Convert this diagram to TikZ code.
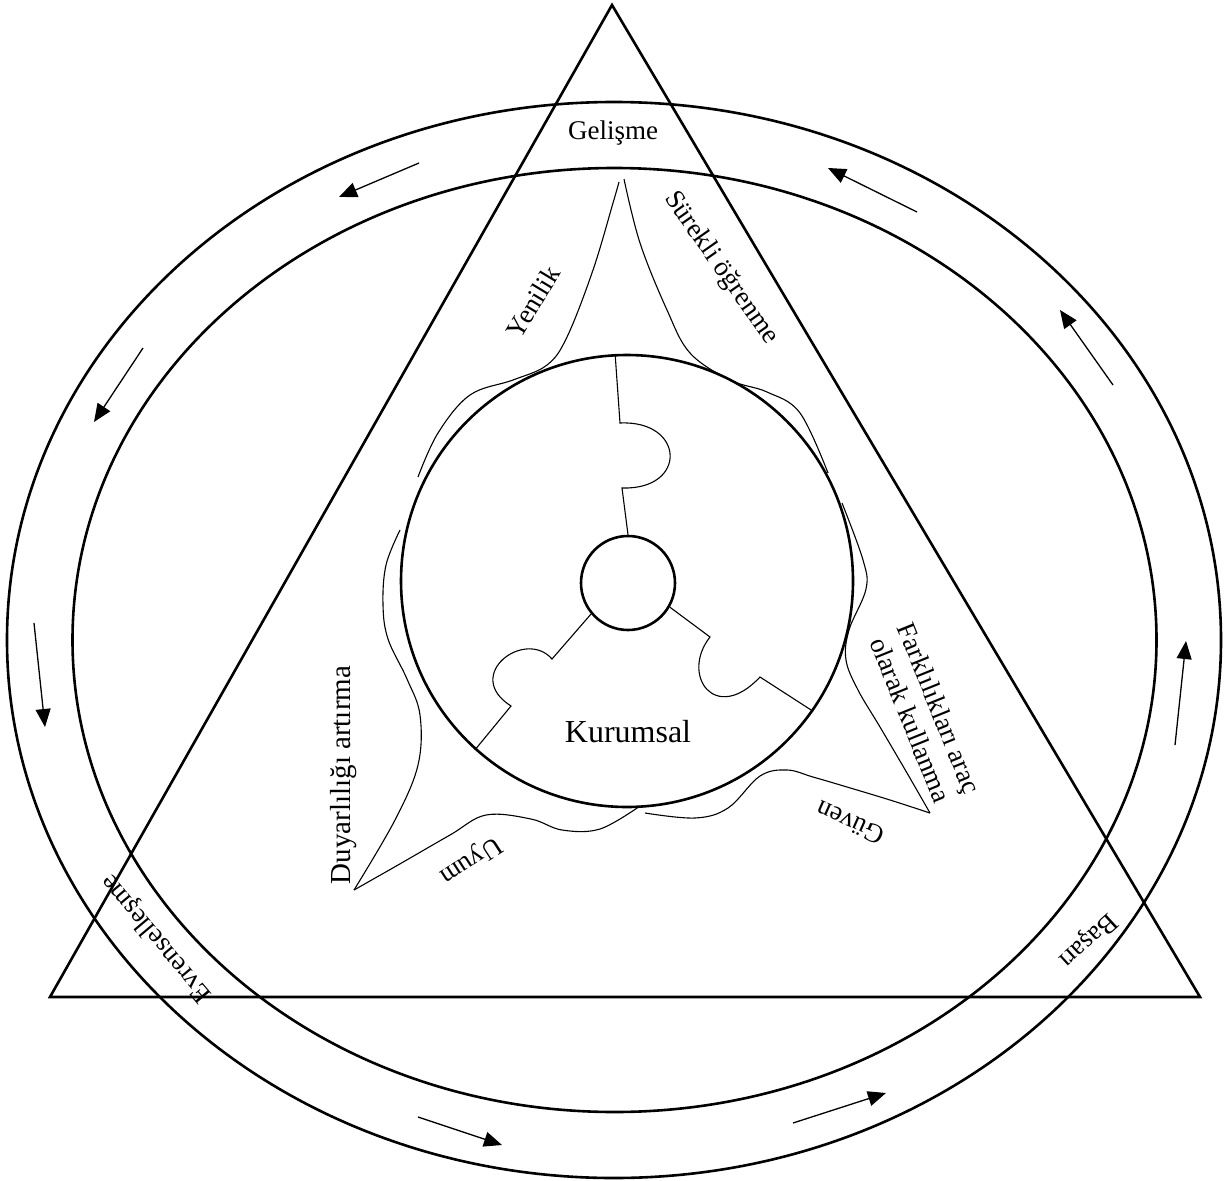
\documentclass[tikz,border=0pt]{standalone}
\usepackage{fontspec}
\setmainfont{Liberation Serif}
\usetikzlibrary{arrows.meta}

\begin{document}
\begin{tikzpicture}[
  x=1pt,y=-1pt,
  rim/.style={line width=2.6pt},
  wave/.style={line width=1.1pt},
  flow/.style={line width=1.3pt,-{Triangle[length=18pt,width=15pt]}},
  lbl/.style={font=\fontsize{27}{31}\selectfont,inner sep=0pt},
]
  \useasboundingbox (0,0) rectangle (1225,1180);
  % ---- outer ring and triangle ----
  \draw[rim] (614,640) ellipse [x radius=607, y radius=538];
  \draw[rim] (614.5,640) ellipse [x radius=542, y radius=472];
  \draw[rim,line join=miter] (612,5) -- (1200,997) -- (50,997) -- cycle;
  % ---- circulating arrows ----
  \foreach \ax/\ay/\bx/\by [count=\i] in {419/163/339/197, 917/212/828/168,
      143/348/94/422, 34/623/45/727, 418/1117/502/1145, 793/1123/886/1093,
      1175/745/1186/641, 1113/385/1060/310}{
    \coordinate (tail\i) at (\ax,\ay);
    \coordinate (head\i) at (\bx,\by);
    \draw[flow] (tail\i) -- (head\i);
  }
  % ---- core ----
  \node[rim,draw,circle,minimum size=452pt,inner sep=0pt] (core) at (627,581) {};
  \node[rim,draw,circle,minimum size=94pt,inner sep=0pt] (hub) at (628,583) {};
  \draw[wave] (core.93) -- (620,423)
    .. controls (685,420) and (688,490) .. (622,488) -- (hub.north);
  \draw[wave] (hub.220) -- (552,659)
    .. controls (525,628) and (462,675) .. (511,706) -- (core.228);
  \draw[wave] (hub.330) -- (710,637)
    .. controls (680,675) and (715,725) .. (760,677) -- (core.325);
  % ---- star outline ----
  \draw[wave] plot[smooth,tension=0.6] coordinates {(418,477) (438,433) (470,395)
    (513,380) (547,365) (567,337) (593,270) (613,203) (619,182)};
  \draw[wave] plot[smooth,tension=0.6] coordinates {(624,179) (640,243) (667,310)
    (690,353) (730,380) (767,392) (800,413) (828,473)};
  \draw[wave] plot[smooth,tension=0.6] coordinates {(842,503) (863,560) (866,589)
    (849,630) (846,660) (858,690) (880,727) (907,773) (930,813)};
  \draw[wave] plot[smooth,tension=0.6] coordinates {(930,813) (890,800) (847,787)
    (813,777) (787,770) (760,776) (728,808) (695,818) (645,813)};
  \draw[wave] plot[smooth,tension=0.6] coordinates {(400,530) (386,565) (383,605)
    (388,639) (407,679) (420,715) (418,765) (395,820) (354,890)};
  \draw[wave] plot[smooth,tension=0.6] coordinates {(354,890) (398,865) (450,835)
    (486,815) (531,819) (562,830) (600,829) (640,806)};
  % ---- labels ----
  \node[lbl] (gel) at (613,133) {Gelişme};
  \node[lbl,rotate=59] (yen) at (533,302) {Yenilik};
  \node[lbl,rotate=-55] (sur) at (721,268) {Sürekli öğrenme};
  \node[lbl,rotate=-68,align=center] (far) at (925,714)
    {Farklılıkları araç\\olarak kullanma};
  \node[lbl,rotate=90,font=\fontsize{29}{33}\selectfont] (duy) at (344,775) {Duyarlılığı artırma};
  \node[lbl,rotate=-147] (uyu) at (470,860) {Uyum};
  \node[lbl,rotate=156] (guv) at (850,823) {Güven};
  \node[lbl,rotate=130] (evr) at (157,938) {Evrenselleşme};
  \node[lbl,rotate=-137.5] (bas) at (1087,940) {Başarı};
  \node[lbl,font=\fontsize{32}{38}\selectfont] (kur) at (628,732) {Kurumsal};
\end{tikzpicture}
\end{document}
